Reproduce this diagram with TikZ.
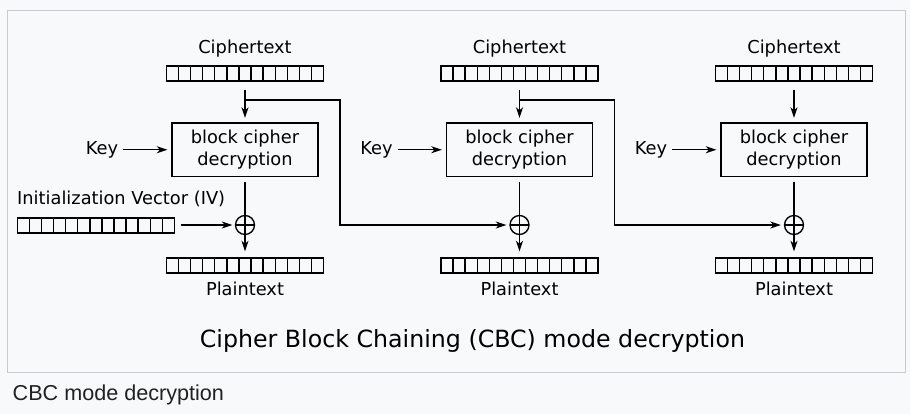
\documentclass[tikz,border=0pt]{standalone}
\usepackage{fontspec}
\setmainfont{DejaVu Sans}
\newfontfamily\capfont{Liberation Sans}
\usetikzlibrary{arrows.meta,calc}
\definecolor{pagebg}{HTML}{F8F9FA}
\definecolor{framec}{HTML}{C8CCD1}
\definecolor{captxt}{HTML}{202122}
\tikzset{
 cline/.style={line width=1.35pt, black},
 arr/.style={cline, -{Stealth[length=10.5pt,width=7pt,inset=3pt]}},
 lbl/.style={inner sep=0pt, font=\fontsize{17.8}{22.4}\selectfont},
 cellrow/.style={draw, line width=1.35pt, minimum width=157pt, minimum height=15pt, inner sep=0pt,
   path picture={\foreach \k in {1,...,12}{\draw[line width=1.35pt] ([xshift=\k*157/13*1pt]path picture bounding box.south west) -- ([xshift=\k*157/13*1pt]path picture bounding box.north west);}}},
 cbox/.style={draw, line width=1.35pt, minimum width=146pt, minimum height=53.5pt, inner sep=0pt, align=center, font=\fontsize{17.8}{22.4}\selectfont},
 xorc/.style={draw, circle, line width=1.35pt, minimum size=19pt, inner sep=0pt,
   path picture={\draw[line width=1.35pt] (path picture bounding box.north) -- (path picture bounding box.south) (path picture bounding box.west) -- (path picture bounding box.east);}},
}
\begin{document}
\begin{tikzpicture}[x=1pt,y=-1pt]
\useasboundingbox (0,0) rectangle (910,414);
\fill[pagebg] (0,0) rectangle (910,414);
\draw[framec, line width=1pt] (7.5,10.5) rectangle (905.5,372.5);

\foreach \i/\cx in {1/245,2/519.5,3/794} {
  \node[lbl, anchor=base] (ctl\i) at (\cx,53.3) {Ciphertext};
  \node[cellrow] (ct\i) at (\cx,73.5) {};
  \node[cbox] (b\i) at (\cx,149.75) {block cipher\\decryption};
  \node[lbl, anchor=base] (k\i) at (\cx-143,155) {Key};
  \node[xorc] (x\i) at (\cx,225) {};
  \node[cellrow] (pt\i) at (\cx,265.5) {};
  \node[lbl, anchor=base] (ptl\i) at (\cx,295) {Plaintext};
  \draw[arr, shorten <=8pt, shorten >=4.5pt] (ct\i) -- (b\i);
  \draw[arr, shorten <=5pt, shorten >=4pt] (k\i.east |- b\i.west) -- (b\i.west);
  \draw[arr, shorten <=4.5pt, shorten >=6pt] (b\i) -- (pt\i);
  \coordinate (br\i) at (\cx,100);
}

\node[lbl, anchor=base west] (ivl) at (17,205) {Initialization Vector (IV)};
\node[cellrow] (iv) at (95.9,225.5) {};
\draw[arr, shorten <=6pt, shorten >=2.5pt] (iv.east |- x1.west) -- (x1.west);

\coordinate (t1) at (340,100);
\coordinate (t2) at (614.5,100);
\draw[arr, shorten >=3pt] (br1) -- (t1) |- (x2.west);
\draw[arr, shorten >=3pt] (br2) -- (t2) |- (x3.west);

\node[inner sep=0pt, anchor=base, font=\fontsize{23.7}{28}\selectfont] (title) at (472.5,347.3) {Cipher Block Chaining (CBC) mode decryption};
\node[inner sep=0pt, anchor=base west, font=\capfont\fontsize{21.6}{26}\selectfont, text=captxt] (cap) at (12.5,400.7) {CBC mode decryption};
\end{tikzpicture}
\end{document}
